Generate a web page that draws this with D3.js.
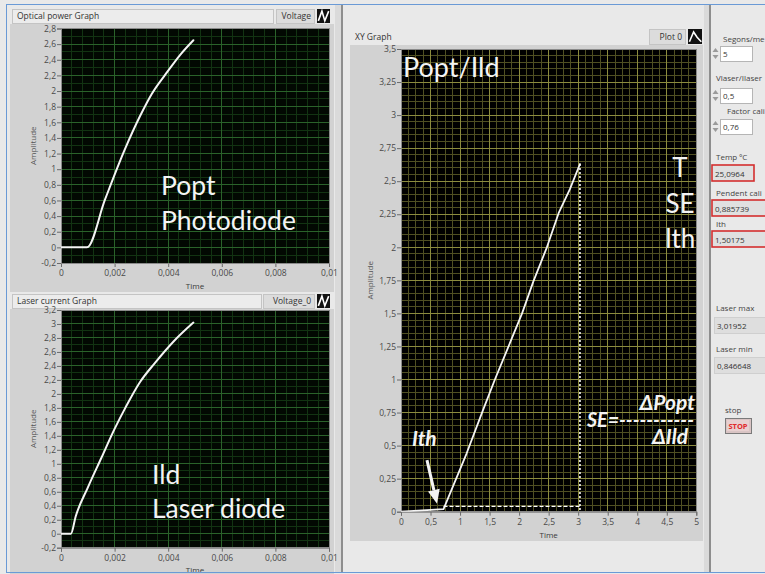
<!DOCTYPE html>
<html><head><meta charset="utf-8">
<script src="https://cdn.jsdelivr.net/npm/d3@7"></script>
<style>
html,body{margin:0;padding:0;background:#e9e9e9;overflow:hidden}
svg{display:block}
</style></head><body>
<svg id="panel" width="765" height="574"></svg>
<script>
// Optical power waveform (photodiode): time in s, amplitude in V
const optTime = [0, 0.00097, 0.00164, 0.00239, 0.00295, 0.00338, 0.0040, 0.00444, 0.00494];
const optAmp  = [0, 0, 0.61, 1.26, 1.68, 1.96, 2.26, 2.46, 2.65];

// Laser current waveform (laser diode)
const ildTime = [0, 0.00037, 0.00055, 0.0010, 0.0015, 0.0020, 0.0024, 0.00295, 0.0035, 0.0042, 0.00494];
const ildAmp  = [0, 0, 0.25, 0.66, 1.08, 1.50, 1.80, 2.17, 2.44, 2.75, 3.02];

// XY curve: Popt against Ild
const xyIld  = [0, 0.72, 1.11, 1.39, 1.59, 2.05, 2.24, 2.47, 2.67, 2.86, 3.03];
const xyPopt = [0, 0.02, 0.44, 0.77, 1.0, 1.5, 1.74, 2.0, 2.26, 2.44, 2.63];
const thresholdIld = 0.72;
const guideLevel = 0.04;

// Axis ticks
const timeTicks = [0, 0.002, 0.004, 0.006, 0.008, 0.01];
const timeLabels = ["0", "0,002", "0,004", "0,006", "0,008", "0,01"];
const optTicks = [-0.2, 0, 0.2, 0.4, 0.6, 0.8, 1, 1.2, 1.4, 1.6, 1.8, 2, 2.2, 2.4, 2.6, 2.8];
const optLabels = ["-0,2", "0", "0,2", "0,4", "0,6", "0,8", "1", "1,2", "1,4", "1,6", "1,8", "2", "2,2", "2,4", "2,6", "2,8"];
const ildTicks = [-0.2, 0, 0.2, 0.4, 0.6, 0.8, 1, 1.2, 1.4, 1.6, 1.8, 2, 2.2, 2.4, 2.6, 2.8, 3, 3.2];
const ildLabels = ["-0,2", "0", "0,2", "0,4", "0,6", "0,8", "1", "1,2", "1,4", "1,6", "1,8", "2", "2,2", "2,4", "2,6", "2,8", "3", "3,2"];
const xyXTicks = [0, 0.5, 1, 1.5, 2, 2.5, 3, 3.5, 4, 4.5, 5];
const xyXLabels = ["0", "0,5", "1", "1,5", "2", "2,5", "3", "3,5", "4", "4,5", "5"];
const xyYTicks = [0, 0.25, 0.5, 0.75, 1, 1.25, 1.5, 1.75, 2, 2.25, 2.5, 2.75, 3, 3.25, 3.5];
const xyYLabels = ["0", "0,25", "0,5", "0,75", "1", "1,25", "1,5", "1,75", "2", "2,25", "2,5", "2,75", "3", "3,25", "3,5"];

// Front panel controls and indicators
const ctrlLabels = ["Segons/me", "Vlaser/Ilaser", "Factor cali"];
const ctrlValues = ["5", "0,5", "0,76"];
const indLabels = ["Temp ºC", "Pendent cali", "Ith"];
const indValues = ["25,0964", "0,885739", "1,50175"];
const laserLabels = ["Laser max", "Laser min"];
const laserValues = ["3,01952", "0,846648"];

const UI = "'Open Sans', 'DejaVu Sans', sans-serif";
const BIG = "Lato, 'Open Sans', sans-serif";
const svg = d3.select("#panel");

// ---- panel background, pane borders and splitters ----
svg.append("rect").attr("width", 765).attr("height", 574).attr("fill", "#e9e9e9");
svg.append("rect").attr("x", 335).attr("y", 4).attr("width", 6).attr("height", 568).attr("fill", "#dadada");
svg.append("line").attr("x1", 342).attr("x2", 342).attr("y1", 4).attr("y2", 572).attr("stroke", "#8e8e8e").attr("stroke-width", 2);
svg.append("rect").attr("x", 704).attr("y", 4).attr("width", 5).attr("height", 568).attr("fill", "#dadada");
svg.append("line").attr("x1", 710).attr("x2", 710).attr("y1", 4).attr("y2", 572).attr("stroke", "#8e8e8e").attr("stroke-width", 2);
const blue = "#6a9ad6";
svg.append("line").attr("x1", 6).attr("x2", 765).attr("y1", 4.5).attr("y2", 4.5).attr("stroke", blue);
svg.append("line").attr("x1", 6.5).attr("x2", 6.5).attr("y1", 4).attr("y2", 572).attr("stroke", blue);

function minorValues(ticks, n) {
  const out = [];
  for (let i = 0; i < ticks.length - 1; i++) {
    for (let k = 1; k < n; k++) out.push(ticks[i] + k * (ticks[i + 1] - ticks[i]) / n);
  }
  return out;
}

let clipId = 0;
function graph(cfg) {
  const g = svg.append("g");
  // graph body
  g.append("rect").attr("x", cfg.body[0]).attr("y", cfg.body[1])
    .attr("width", cfg.body[2] - cfg.body[0]).attr("height", cfg.body[3] - cfg.body[1])
    .attr("fill", "#d2d2d2");
  const x = d3.scaleLinear().domain(cfg.xDomain).range([cfg.plot[0], cfg.plot[2]]);
  const y = d3.scaleLinear().domain(cfg.yDomain).range([cfg.plot[3], cfg.plot[1]]);
  const [px0, py0, px1, py1] = [x(cfg.xDomain[0]), y(cfg.yDomain[1]), x(cfg.xDomain[1]), y(cfg.yDomain[0])];
  g.append("rect").attr("x", px0).attr("y", py0).attr("width", px1 - px0).attr("height", py1 - py0)
    .attr("fill", cfg.bg);
  // grid
  const grid = g.append("g").attr("shape-rendering", "crispEdges");
  grid.selectAll(".vm").data(minorValues(cfg.xTicks, cfg.xMinor)).join("line")
    .attr("x1", d => x(d)).attr("x2", d => x(d)).attr("y1", py0).attr("y2", py1)
    .attr("stroke", cfg.minor);
  grid.selectAll(".hm").data(minorValues(cfg.yTicks, cfg.yMinor)).join("line")
    .attr("y1", d => y(d)).attr("y2", d => y(d)).attr("x1", px0).attr("x2", px1)
    .attr("stroke", cfg.minor);
  grid.selectAll(".vM").data(cfg.xTicks).join("line")
    .attr("x1", d => x(d)).attr("x2", d => x(d)).attr("y1", py0).attr("y2", py1)
    .attr("stroke", cfg.major);
  grid.selectAll(".hM").data(cfg.yTicks).join("line")
    .attr("y1", d => y(d)).attr("y2", d => y(d)).attr("x1", px0).attr("x2", px1)
    .attr("stroke", cfg.major);
  // axes
  const ax = g.append("g").attr("transform", `translate(0,${py1})`)
    .call(d3.axisBottom(x).tickValues(cfg.xTicks).tickFormat((d, i) => cfg.xLabels[i]).tickSize(4).tickPadding(3));
  const ay = g.append("g").attr("transform", `translate(${px0},0)`)
    .call(d3.axisLeft(y).tickValues(cfg.yTicks).tickFormat((d, i) => cfg.yLabels[i]).tickSize(4).tickPadding(1));
  [ax, ay].forEach(a => {
    a.attr("font-family", UI).attr("font-size", 8.5);
    a.select(".domain").attr("stroke", "#7a7a7a");
    a.selectAll(".tick line").attr("stroke", "#6a6a6a");
    a.selectAll(".tick text").attr("fill", "#4a4a4a");
  });
  g.append("rect").attr("x", px0).attr("y", py0).attr("width", px1 - px0).attr("height", py1 - py0)
    .attr("fill", "none").attr("stroke", "#8a8a8a").attr("shape-rendering", "crispEdges");
  // axis names
  g.append("text").attr("x", (px0 + px1) / 2).attr("y", cfg.xNameY).attr("text-anchor", "middle")
    .attr("font-family", UI).attr("font-size", 8).attr("fill", "#3a3a3a").text("Time");
  g.append("text").attr("transform", `translate(${cfg.yNameX},${(py0 + py1) / 2}) rotate(-90)`)
    .attr("text-anchor", "middle").attr("font-family", UI).attr("font-size", 8).attr("fill", "#555")
    .text("Amplitude");
  // data
  const id = "clip" + (clipId++);
  g.append("clipPath").attr("id", id).append("rect")
    .attr("x", px0).attr("y", py0 - 2).attr("width", px1 - px0).attr("height", py1 - py0 + 2);
  const plot = g.append("g").attr("clip-path", `url(#${id})`);
  const line = d3.line().x(d => x(d[0])).y(d => y(d[1])).curve(cfg.curve || d3.curveMonotoneX);
  plot.append("path").datum(d3.zip(cfg.xs, cfg.ys)).attr("d", line)
    .attr("fill", "none").attr("stroke", "#f4f4f4").attr("stroke-width", cfg.lineWidth || 2)
    .attr("stroke-linejoin", "round").attr("stroke-linecap", "round");
  return { g, x, y, plot };
}

function labelBar(x0, y0, x1, y1, text, legend, lx0, lx1, icon) {
  svg.append("rect").attr("x", x0).attr("y", y0).attr("width", x1 - x0).attr("height", y1 - y0)
    .attr("fill", "#ececec").attr("stroke", "#c4c4c4").attr("shape-rendering", "crispEdges");
  svg.append("text").attr("x", x0 + 5).attr("y", y1 - 4).attr("font-family", UI).attr("font-size", 8.5)
    .attr("fill", "#333").text(text);
  svg.append("rect").attr("x", lx0).attr("y", y0).attr("width", lx1 - lx0).attr("height", y1 - y0)
    .attr("fill", "#dcdcdc").attr("stroke", "#c4c4c4").attr("shape-rendering", "crispEdges");
  svg.append("text").attr("x", lx1 - 3).attr("y", y1 - 4).attr("text-anchor", "end").attr("font-family", UI)
    .attr("font-size", 8.5).attr("fill", "#333").text(legend);
  legendIcon(lx1 + 3, y0, 13, y1 - y0, icon);
}

function legendIcon(x, y, w, h, shape) {
  svg.append("rect").attr("x", x).attr("y", y).attr("width", w).attr("height", h).attr("fill", "#111");
  const pts = shape === "wave"
    ? [[0.1, 0.85], [0.38, 0.15], [0.6, 0.85], [0.9, 0.15]]
    : [[0.1, 0.85], [0.4, 0.2], [0.65, 0.55], [0.95, 0.85]];
  svg.append("polyline").attr("points", pts.map(p => [x + p[0] * w, y + p[1] * h].join(",")).join(" "))
    .attr("fill", "none").attr("stroke", "#fff").attr("stroke-width", 1.6);
}

const white = "#f4f4f4";
function bigLabel(g, x, y, s, size) {
  return g.append("text").attr("x", x).attr("y", y).attr("font-family", BIG).attr("font-size", size || 26.5)
    .attr("fill", white).text(s);
}

// ---- Optical power graph ----
labelBar(12, 9, 273, 23, "Optical power Graph", "Voltage", 276, 314, "wave");
const optGraph = graph({
  body: [10, 24, 334, 292], plot: [61, 28.5, 329, 263],
  xDomain: [0, 0.01], yDomain: [-0.2, 2.8],
  xTicks: timeTicks, xLabels: timeLabels, yTicks: optTicks, yLabels: optLabels,
  xMinor: 5, yMinor: 2, bg: "#020802", minor: "#123312", major: "#2a622a",
  xs: optTime, ys: optAmp, xNameY: 289, yNameX: 36
});
bigLabel(optGraph.g, 161, 195, "Popt");
bigLabel(optGraph.g, 161, 230, "Photodiode");

// ---- Laser current graph ----
labelBar(12, 294, 261, 308, "Laser current Graph", "Voltage_0", 263, 314, "wave");
const ildGraph = graph({
  body: [10, 309, 334, 574], plot: [61, 310, 329, 547.7],
  xDomain: [0, 0.01], yDomain: [-0.2, 3.2],
  xTicks: timeTicks, xLabels: timeLabels, yTicks: ildTicks, yLabels: ildLabels,
  xMinor: 5, yMinor: 2, bg: "#020802", minor: "#123312", major: "#2a622a",
  xs: ildTime, ys: ildAmp, xNameY: 573, yNameX: 36
});
bigLabel(ildGraph.g, 152, 484, "Ild");
bigLabel(ildGraph.g, 152, 518, "Laser diode");

// ---- XY graph ----
svg.append("text").attr("x", 355).attr("y", 40).attr("font-family", UI).attr("font-size", 8.5)
  .attr("fill", "#333").text("XY Graph");
svg.append("rect").attr("x", 649).attr("y", 29).attr("width", 36).attr("height", 15)
  .attr("fill", "#dcdcdc").attr("stroke", "#c4c4c4").attr("shape-rendering", "crispEdges");
svg.append("text").attr("x", 682).attr("y", 40).attr("text-anchor", "end").attr("font-family", UI)
  .attr("font-size", 8.5).attr("fill", "#333").text("Plot 0");
legendIcon(688, 29, 14, 15, "peak");
const xy = graph({
  body: [350, 45, 703, 541], plot: [401, 49, 696.3, 511.7],
  xDomain: [0, 5], yDomain: [0, 3.5],
  xTicks: xyXTicks, xLabels: xyXLabels, yTicks: xyYTicks, yLabels: xyYLabels,
  xMinor: 4, yMinor: 5, bg: "#000000", minor: "#4f4f22", major: "#8c8c3e",
  xs: xyIld, ys: xyPopt, xNameY: 538, yNameX: 373, lineWidth: 1.8, curve: d3.curveLinear
});
// guide lines at the end of the sweep
const xEnd = xyIld[xyIld.length - 1], yEnd = xyPopt[xyPopt.length - 1];
xy.plot.append("line").attr("x1", xy.x(xEnd)).attr("x2", xy.x(xEnd))
  .attr("y1", xy.y(yEnd)).attr("y2", xy.y(0))
  .attr("stroke", "#ffffff").attr("stroke-width", 1.6).attr("stroke-dasharray", "2,2");
xy.plot.append("line").attr("x1", xy.x(thresholdIld)).attr("x2", xy.x(xEnd))
  .attr("y1", xy.y(guideLevel)).attr("y2", xy.y(guideLevel))
  .attr("stroke", "#ffffff").attr("stroke-width", 1.4).attr("stroke-dasharray", "4,2");

bigLabel(xy.g, 403, 77, "Popt/Ild", 27);
[["T", 177], ["SE", 213], ["Ith", 248]].forEach(([t, yy]) => {
  bigLabel(xy.g, 680, yy, t, 26).attr("text-anchor", "middle");
});
// slope-efficiency formula
const fI = { "font-family": BIG, "font-size": 21, "font-weight": "bold", "font-style": "italic", fill: white };
function bigItalic(x, y, anchor, s) {
  const t = xy.g.append("text").attr("x", x).attr("y", y).attr("text-anchor", anchor).text(s);
  Object.entries(fI).forEach(([k, v]) => t.attr(k, v));
  return t;
}
bigItalic(695, 410, "end", "ΔPopt");
bigItalic(587, 427, "start", "SE=-----------").attr("textLength", 107).attr("lengthAdjust", "spacingAndGlyphs");
bigItalic(688, 444, "end", "ΔIld");
// threshold marker
bigItalic(412, 446, "start", "Ith");
const aFrom = [xy.x(0.44), xy.y(0.39)], aTo = [xy.x(0.61), xy.y(0.06)];
const ang = Math.atan2(aTo[1] - aFrom[1], aTo[0] - aFrom[0]);
const headLen = 14, headW = 6;
const base = [aTo[0] - headLen * Math.cos(ang), aTo[1] - headLen * Math.sin(ang)];
xy.g.append("line").attr("x1", aFrom[0]).attr("y1", aFrom[1]).attr("x2", base[0]).attr("y2", base[1])
  .attr("stroke", white).attr("stroke-width", 3);
xy.g.append("polygon").attr("points", [
  aTo,
  [base[0] + headW * Math.sin(ang), base[1] - headW * Math.cos(ang)],
  [base[0] - headW * Math.sin(ang), base[1] + headW * Math.cos(ang)]
].map(p => p.join(",")).join(" ")).attr("fill", white);

// ---- control column ----
function panelLabel(x, y, s) {
  svg.append("text").attr("x", x).attr("y", y).attr("font-family", UI).attr("font-size", 8)
    .attr("fill", "#444").text(s);
}
const ctrlLayout = [[723, 42, 46], [716, 81, 88], [727, 114, 119]];
ctrlLabels.forEach((lab, i) => {
  const [lx, ly, by] = ctrlLayout[i];
  panelLabel(lx, ly, lab);
  // increment / decrement arrows
  svg.append("path").attr("d", `M712.5,${by + 6} l3,-4 l3,4 z M712.5,${by + 9} l3,4 l3,-4 z`)
    .attr("fill", "#9a9a9a");
  svg.append("rect").attr("x", 720).attr("y", by).attr("width", 32).attr("height", 15)
    .attr("fill", "#ffffff").attr("stroke", "#b5b5b5").attr("shape-rendering", "crispEdges");
  svg.append("text").attr("x", 723).attr("y", by + 11).attr("font-family", UI).attr("font-size", 8)
    .attr("fill", "#333").text(ctrlValues[i]);
});
const indLayout = [[716, 160, 165, 42], [716, 196, 200, 60], [716, 227, 231, 60]];
indLabels.forEach((lab, i) => {
  const [lx, ly, by, w] = indLayout[i];
  panelLabel(lx, ly, lab);
  svg.append("rect").attr("x", 712).attr("y", by).attr("width", w).attr("height", 16)
    .attr("fill", "#e0e0e0").attr("stroke", "#d42f2f").attr("stroke-width", 1.6);
  svg.append("text").attr("x", 715).attr("y", by + 11.5).attr("font-family", UI).attr("font-size", 8)
    .attr("fill", "#333").text(indValues[i]);
});
const laserLayout = [[716, 311, 317], [716, 352, 357]];
laserLabels.forEach((lab, i) => {
  const [lx, ly, by] = laserLayout[i];
  panelLabel(lx, ly, lab);
  svg.append("rect").attr("x", 714).attr("y", by).attr("width", 55).attr("height", 16)
    .attr("fill", "#dedede").attr("stroke", "#cfcfcf").attr("shape-rendering", "crispEdges");
  svg.append("text").attr("x", 717).attr("y", by + 11.5).attr("font-family", UI).attr("font-size", 8)
    .attr("fill", "#333").text(laserValues[i]);
});
panelLabel(725, 413, "stop");
svg.append("rect").attr("x", 725).attr("y", 418).attr("width", 26).attr("height", 15)
  .attr("fill", "#d9c4c4").attr("stroke", "#7a7a7a").attr("shape-rendering", "crispEdges");
svg.append("rect").attr("x", 727).attr("y", 420).attr("width", 22).attr("height", 11)
  .attr("fill", "#e8d0d0");
svg.append("text").attr("x", 738).attr("y", 429).attr("text-anchor", "middle").attr("font-family", UI)
  .attr("font-size", 7.5).attr("font-weight", "bold").attr("fill", "#e02a2a").text("STOP");

// bottom pane border drawn last so it sits over the graph bodies
svg.append("line").attr("x1", 6).attr("x2", 765).attr("y1", 572.5).attr("y2", 572.5).attr("stroke", blue);
</script>
</body></html>
